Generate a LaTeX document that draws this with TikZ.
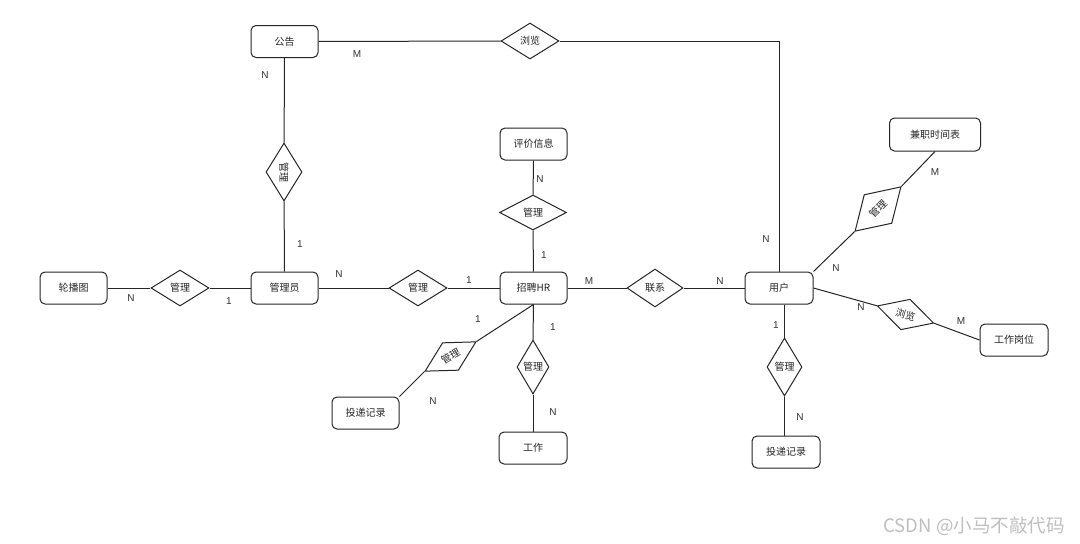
\documentclass[tikz,border=0pt]{standalone}
\usepackage{fontspec}
\setmainfont{Noto Sans CJK SC}
\newfontfamily\latinf{Liberation Sans}
\usetikzlibrary{shapes.geometric}
\begin{document}
\begin{tikzpicture}[x=1pt,y=-1pt,
  ent/.style={draw=black!85, rounded corners=5pt, minimum width=67pt, minimum height=32pt, inner sep=0pt, line width=1pt, font=\fontsize{10}{12}\selectfont, text=black!85},
  rel/.style={draw=black!85, diamond, inner sep=0pt, aspect=1.6, line width=1pt, font=\fontsize{10}{12}\selectfont, text=black!85},
  lbl/.style={font=\latinf\fontsize{10}{12}\selectfont, text=black!80, inner sep=0pt},
  conn/.style={draw=black!85, line width=1pt}]
\useasboundingbox (0,0) rectangle (1080,544);
\fill[white] (0,0) rectangle (1080,544);

% entities
\node[ent] (gg) at (284.5,41.5) {公告};
\node[ent] (adm) at (284.5,288) {管理员};
\node[ent] (lb) at (73.5,288) {轮播图};
\node[ent] (hr) at (533.5,288) {招聘HR};
\node[ent] (pj) at (533.5,144) {评价信息};
\node[ent, minimum width=68pt] (user) at (779,288) {用户};
\node[ent, minimum width=91pt, minimum height=33pt] (jz) at (935,134.5) {兼职时间表};
\node[ent, minimum width=68pt] (gw) at (1014,340) {工作岗位};
\node[ent, minimum width=68pt] (td2) at (786,452) {投递记录};
\node[ent] (td1) at (365.5,413) {投递记录};
\node[ent, minimum width=68pt] (gz) at (533,448) {工作};

% relations
\node[rel, minimum width=58pt, minimum height=36pt] (r1) at (530,41) {浏览};
\node[rel, minimum width=58pt, minimum height=36pt, rotate=-90] (r2) at (284,172) {管理};
\node[rel, minimum width=58pt, minimum height=36pt] (r3) at (180,288) {管理};
\node[rel, minimum width=58pt, minimum height=36pt] (r4) at (418,288) {管理};
\node[rel, minimum width=67pt, minimum height=35pt] (r5) at (533,212.5) {管理};
\node[rel, minimum width=56pt, minimum height=38pt] (r6) at (655,288) {联系};
\node[rel, minimum width=64pt, minimum height=40pt, rotate=44] (r7) at (878,209) {管理};
\node[rel, minimum width=59pt, minimum height=32pt, rotate=-17] (r8) at (905.5,314.5) {浏览};
\node[rel, minimum width=35pt, minimum height=58pt, aspect=0.6] (r9) at (784.5,367) {管理};
\node[rel, minimum width=59pt, minimum height=32pt, rotate=30] (r10) at (450.5,356.5) {管理};
\node[rel, minimum width=32pt, minimum height=54pt, aspect=0.6] (r11) at (533,367) {管理};

% connectors
\draw[conn] (gg) -- (r1);
\draw[conn] (r1.east) -| (user.north);
\draw[conn] (gg) -- (r2);
\draw[conn] (r2) -- (adm);
\draw[conn] (lb) -- (r3);
\draw[conn] (r3) -- (adm);
\draw[conn] (adm) -- (r4);
\draw[conn] (r4) -- (hr);
\draw[conn] (pj) -- (r5);
\draw[conn] (r5) -- (hr);
\draw[conn] (hr) -- (r6);
\draw[conn] (r6) -- (user);
\draw[conn] (user.north east) -- (r7.west);
\draw[conn] (r7.east) -- (jz.south);
\draw[conn] (user.east) -- (r8.west);
\draw[conn] (r8.east) -- (gw.west);
\draw[conn] (r9.north |- user.south) -- (r9.north);
\draw[conn] (r9.south) -- (r9.south |- td2.north);
\draw[conn] (hr.south) -- (r10.east);
\draw[conn] (r10.west) -- (td1.north east);
\draw[conn] (hr.south) -- (r11.north);
\draw[conn] (r11.south) -- (gz.north);

% cardinality labels
\node[lbl] (c1) at (357,54) {M};
\node[lbl] (c2) at (265,75) {N};
\node[lbl] (c3) at (300,244) {1};
\node[lbl] (c4) at (131,298) {N};
\node[lbl] (c5) at (229,301) {1};
\node[lbl] (c6) at (339,274) {N};
\node[lbl] (c7) at (469,280) {1};
\node[lbl] (c8) at (540,179) {N};
\node[lbl] (c9) at (544,255) {1};
\node[lbl] (c10) at (589,281) {M};
\node[lbl] (c11) at (720,281) {N};
\node[lbl] (c12) at (766,239) {N};
\node[lbl] (c13) at (836,268) {N};
\node[lbl] (c14) at (935,172) {M};
\node[lbl] (c15) at (861,307) {N};
\node[lbl] (c16) at (961,321) {M};
\node[lbl] (c17) at (776,325) {1};
\node[lbl] (c18) at (800,417) {N};
\node[lbl] (c19) at (478,319) {1};
\node[lbl] (c20) at (433,401) {N};
\node[lbl] (c21) at (553,327) {1};
\node[lbl] (c22) at (553,412) {N};

% watermark
\node[font=\fontsize{18.5}{21}\selectfont, text=black!25, inner sep=0pt] (wm) at (974,526) {CSDN @小马不敲代码};
\end{tikzpicture}
\end{document}
